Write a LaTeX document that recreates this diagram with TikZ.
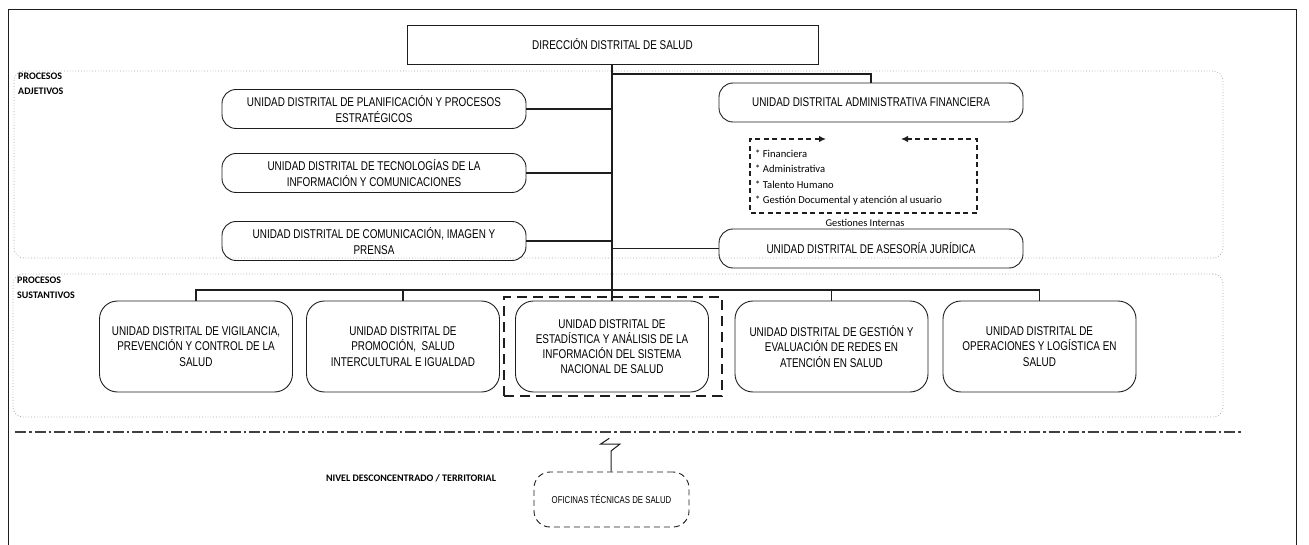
\documentclass[tikz,border=0pt]{standalone}
\usepackage{fontspec}
\setmainfont{Liberation Sans}[FakeStretch=0.78]
\newfontfamily\calib{Carlito}
\usetikzlibrary{arrows.meta}
\definecolor{ink}{HTML}{1E1E1E}
\definecolor{dotgray}{HTML}{A8A8A8}

\begin{document}
\begin{tikzpicture}[x=1pt,y=-1pt,
  unitbox/.style={draw=ink, line width=0.9pt, rounded corners=14pt, align=center,
    text=black, inner sep=0pt, font=\fontsize{12.7}{15.2}\selectfont},
  adjbox/.style={unitbox, minimum width=304pt, minimum height=39pt},
  susbox/.style={unitbox, rounded corners=18pt, minimum width=193pt, minimum height=91pt},
  region/.style={draw=dotgray, dotted, line width=0.8pt, rounded corners=10pt, inner sep=0pt},
  reglabel/.style={anchor=north west, inner sep=0pt, align=left, text=black,
    font=\calib\bfseries\fontsize{10}{15}\selectfont},
  link/.style={draw=ink, line width=1.1pt},
]
\useasboundingbox (0,0) rectangle (1309,545);

% outer frame, open at the bottom
\draw[ink, line width=1pt] (8,545) -- (8,10) -- (1296,10) -- (1296,545);

% process regions
\node[region, minimum width=1209pt, minimum height=187pt] (adj) at (618.5,164.5) {};
\node[region, minimum width=1210pt, minimum height=143pt] (sus) at (618,345.5) {};
\node[reglabel] (adjlab) at (18,73) {PROCESOS\\ADJETIVOS};
\node[reglabel] (suslab) at (17,277) {PROCESOS\\SUSTANTIVOS};

% top authority
\node[draw=ink, line width=0.9pt, minimum width=411pt, minimum height=39pt, inner sep=0pt,
  text=black, font=\fontsize{12.7}{15}\selectfont] (dir) at (612.5,44.5) {DIRECCIÓN DISTRITAL DE SALUD};

% adjective units
\node[adjbox] (plan) at (374,109) {UNIDAD DISTRITAL DE PLANIFICACIÓN Y PROCESOS\\ESTRATÉGICOS};
\node[adjbox] (tic)  at (374,173) {UNIDAD DISTRITAL DE TECNOLOGÍAS DE LA\\INFORMACIÓN Y COMUNICACIONES};
\node[adjbox] (com)  at (374,241) {UNIDAD DISTRITAL DE COMUNICACIÓN, IMAGEN Y\\PRENSA};
\node[adjbox] (adm)  at (871,102.5) {UNIDAD DISTRITAL ADMINISTRATIVA FINANCIERA};
\node[adjbox] (jur)  at (871,248.5) {UNIDAD DISTRITAL DE ASESORÍA JURÍDICA};

% internal management list
\node[anchor=north west, inner sep=0pt, align=left, text=black,
  font=\calib\fontsize{10.6}{15.2}\selectfont] (glist) at (755,150)
  {* Financiera\\* Administrativa\\* Talento Humano\\* Gestión Documental y atención al usuario};
\node[inner sep=0pt, text=black, font=\calib\fontsize{10.4}{12}\selectfont] (gtitle) at (865,223) {Gestiones Internas};
\draw[ink, line width=1.3pt, dash pattern=on 5pt off 3.5pt, {Latex[length=7pt,width=6.5pt]}-{Latex[length=7pt,width=6.5pt]}]
  (826,139) -- (750,139) -- (750,213) -- (977,213) -- (977,139) -- (901,139);

% substantive units
\node[susbox] (vig) at (196,346.5) {UNIDAD DISTRITAL DE VIGILANCIA,\\PREVENCIÓN Y CONTROL DE LA\\SALUD};
\node[susbox] (pro) at (403,346.5) {UNIDAD DISTRITAL DE\\PROMOCIÓN,\ \ SALUD\\INTERCULTURAL E IGUALDAD};
\node[susbox] (est) at (612,346.5) {UNIDAD DISTRITAL DE\\ESTADÍSTICA Y ANÁLISIS DE LA\\INFORMACIÓN DEL SISTEMA\\NACIONAL DE SALUD};
\node[susbox] (red) at (831.5,346.5) {UNIDAD DISTRITAL DE GESTIÓN Y\\EVALUACIÓN DE REDES EN\\ATENCIÓN EN SALUD};
\node[susbox] (ope) at (1039.5,346.5) {UNIDAD DISTRITAL DE\\OPERACIONES Y LOGÍSTICA EN\\SALUD};
\node[draw=ink, line width=1.1pt, dash pattern=on 10pt off 6pt, minimum width=218pt,
  minimum height=99pt, inner sep=0pt] (estframe) at (613,346.5) {};

% connectors
\coordinate (tadm) at (612,74);
\coordinate (bus) at (612,290);
\draw[link] (dir.south -| est.north) -- (est.north);
\draw[link] (plan.east) -- (plan.east -| est.north);
\draw[link] (tic.east) -- (tic.east -| est.north);
\draw[link] (com.east) -- (com.east -| est.north);
\draw[link] (jur.west) -- (jur.west -| est.north);
\draw[link] (tadm) -| (adm.north);
\draw[link] (vig.north) |- (bus) -| (ope.north);
\draw[link] (pro.north) -- (pro.north |- bus);
\draw[link] (red.north) -- (red.north |- bus);

% boundary between central and territorial levels
\draw[ink!85, line width=1.4pt, dash pattern=on 11pt off 3pt on 2.5pt off 3pt] (15,432) -- (1241,432);

% territorial level
\node[inner sep=0pt, text=black, font=\calib\bfseries\fontsize{10}{12}\selectfont] (nivel) at (411,478) {NIVEL DESCONCENTRADO / TERRITORIAL};
\node[draw=ink, line width=0.9pt, dash pattern=on 6pt off 4pt, rounded corners=16pt,
  minimum width=155pt, minimum height=55pt, inner sep=0pt, text=black,
  font=\fontsize{10}{12}\selectfont] (ofi) at (611.5,499.5) {OFICINAS TÉCNICAS DE SALUD};
\coordinate (zz) at (611,451);
\draw[link, line width=1pt] (ofi.north -| zz) -- (zz) -- (620,444) -- (600.7,444) -- (609.3,438.3);
\end{tikzpicture}
\end{document}
